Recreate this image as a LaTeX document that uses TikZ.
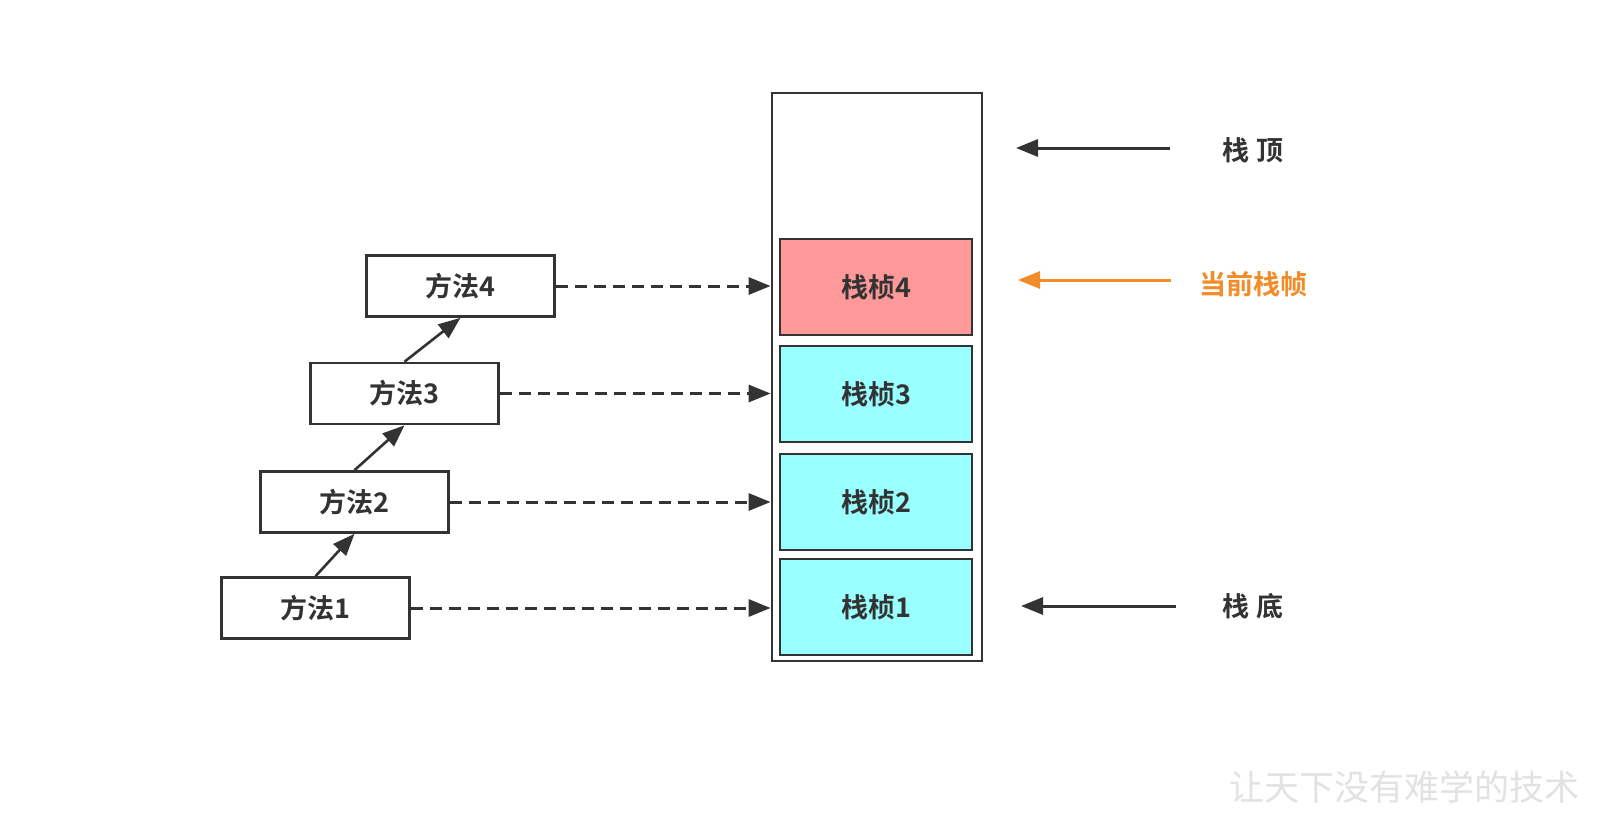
\documentclass[tikz,border=0pt]{standalone}
\usepackage{fontspec}
\newfontfamily\cjk{Noto Sans CJK SC}[BoldFont={Noto Sans CJK SC Bold}]
\usetikzlibrary{arrows.meta}
\definecolor{ink}{HTML}{333333}
\definecolor{pinkf}{HTML}{FF9999}
\definecolor{cyanf}{HTML}{99FFFF}
\definecolor{orangec}{HTML}{F28C28}
\definecolor{wm}{HTML}{E2E2E2}
\begin{document}
\begin{tikzpicture}[x=1pt,y=-1pt,
  txt/.style={font=\cjk\fontsize{27}{32}\selectfont\bfseries, text=ink},
  method/.style={txt, draw=ink, line width=2.6pt, minimum width=188pt, minimum height=61pt, inner sep=0pt, fill=white},
  frame/.style={txt, draw=ink, line width=2.6pt, minimum width=192pt, minimum height=96pt, inner sep=0pt},
  tip/.style={-{Triangle[length=22pt,width=17pt]}},
  callarrow/.style={tip, draw=ink, line width=2.6pt},
  dasharrow/.style={tip, draw=ink, line width=3pt, dash pattern=on 12pt off 7pt},
  sidearrow/.style={tip, draw=ink, line width=3pt}
]
\useasboundingbox (0,0) rectangle (1620,822);
\fill[white] (0,0) rectangle (1620,822);

% outer stack
\node[draw=ink, line width=2.8pt, minimum width=210pt, minimum height=568pt, inner sep=0pt] (stack) at (877,377) {};

% frames
\node[frame, fill=pinkf] (f4) at (876,287) {栈桢4};
\node[frame, fill=cyanf] (f3) at (876,394) {栈桢3};
\node[frame, fill=cyanf] (f2) at (876,502) {栈桢2};
\node[frame, fill=cyanf] (f1) at (876,607) {栈桢1};

% methods
\node[method] (m4) at (460.5,286) {方法4};
\node[method] (m3) at (404.5,393.5) {方法3};
\node[method] (m2) at (354.5,502) {方法2};
\node[method] (m1) at (315.5,608) {方法1};

% call arrows
\draw[callarrow] (m1.north) -- (m2.south);
\draw[callarrow] (m2.north) -- (m3.south);
\draw[callarrow] (m3.north) -- (m4.south);

% dashed arrows
\draw[dasharrow] (m4.east) -- (m4.east -| stack.west);
\draw[dasharrow] (m3.east) -- (m3.east -| stack.west);
\draw[dasharrow] (m2.east) -- (m2.east -| stack.west);
\draw[dasharrow] (m1.east) -- (m1.east -| stack.west);

% side labels
\node[txt] (top) at (1253,150) {栈 顶};
\node[txt, text=orangec] (cur) at (1253,284) {当前栈帧};
\node[txt] (bot) at (1253,606) {栈 底};
\coordinate (topS) at (1170,148);
\coordinate (topE) at (1016,148);
\coordinate (curS) at (1171,280);
\coordinate (curE) at (1018,280);
\coordinate (botS) at (1176,606);
\coordinate (botE) at (1021,606);
\draw[sidearrow] (topS) -- (topE);
\draw[sidearrow, draw=orangec] (curS) -- (curE);
\draw[sidearrow] (botS) -- (botE);

% watermark
\node[font=\cjk\fontsize{35}{40}\selectfont, text=wm] (wmark) at (1404,787) {让天下没有难学的技术};
\end{tikzpicture}
\end{document}
